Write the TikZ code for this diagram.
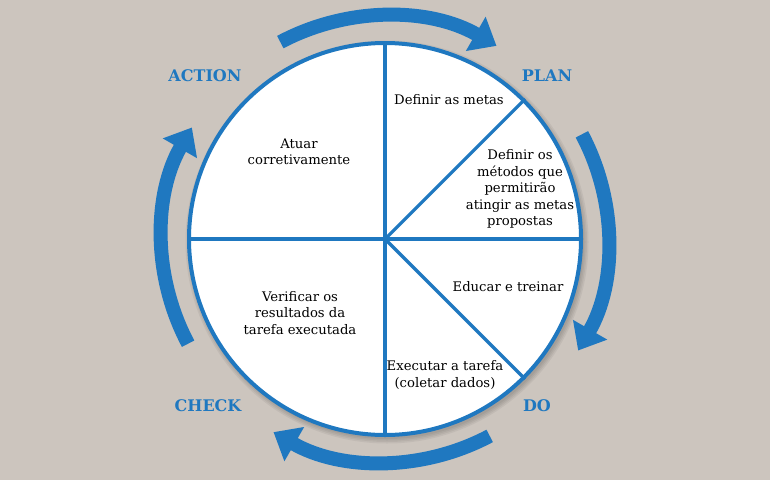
\documentclass[tikz,border=0pt]{standalone}
\usepackage{fontspec}
\setmainfont{DejaVu Serif}
\usetikzlibrary{arrows.meta}
\definecolor{bg}{RGB}{204,197,190}
\definecolor{pblue}{RGB}{31,120,192}
\begin{document}
\begin{tikzpicture}[x=1pt,y=1pt,
  txt/.style={align=center, font=\fontsize{13.2}{16.5}\selectfont, inner sep=0pt},
  phase/.style={font=\bfseries\fontsize{16}{18}\selectfont, text=pblue, inner sep=0pt},
  cyc/.style={draw=pblue, line width=14pt, -{Triangle[width=38pt,length=24pt]}},
  divider/.style={draw=pblue, line width=3.2pt}]
\fill[bg] (0,0) rectangle (770,-480);
\useasboundingbox (0,0) rectangle (770,-480);
\coordinate (c) at (385,-239);
\foreach \r in {197,198.5,200,201.5}
  \fill[black, opacity=0.05] ([shift={(2,-3)}]c) circle[radius=\r pt];
\node[circle, inner sep=0pt, minimum size=392pt, draw=pblue, line width=4pt, fill=white] (circ) at (c) {};
\draw[divider] (circ.north) -- (circ.south);
\draw[divider] (circ.west) -- (circ.east);
\draw[divider] (c) -- (circ.45);
\draw[divider] (c) -- (circ.-45);
% cycle arrows
\draw[cyc] ([shift={(118:223pt)}]c) arc[start angle=118, end angle=60, radius=223pt];
\draw[cyc] ([shift={(28:223pt)}]c) arc[start angle=28, end angle=-30, radius=223pt];
\draw[cyc] ([shift={(-62:223pt)}]c) arc[start angle=-62, end angle=-120, radius=223pt];
\draw[cyc] ([shift={(208:223pt)}]c) arc[start angle=208, end angle=150, radius=223pt];
% phase labels
\node[phase] (action) at (205,-76) {ACTION};
\node[phase] (plan) at (547,-76) {PLAN};
\node[phase] (check) at (208,-406) {CHECK};
\node[phase] (do) at (537,-406) {DO};
% texts
\node[txt] (t1) at (449,-100) {Definir as metas};
\node[txt] (t2) at (520,-189) {Definir os\\métodos que\\permitirão\\atingir as metas\\propostas};
\node[txt] (t3) at (508,-287) {Educar e treinar};
\node[txt] (t4) at (445,-375) {Executar a tarefa\\(coletar dados)};
\node[txt] (t5) at (300,-313) {Verificar os\\resultados da\\tarefa executada};
\node[txt] (t6) at (299,-152) {Atuar\\corretivamente};
\end{tikzpicture}
\end{document}
